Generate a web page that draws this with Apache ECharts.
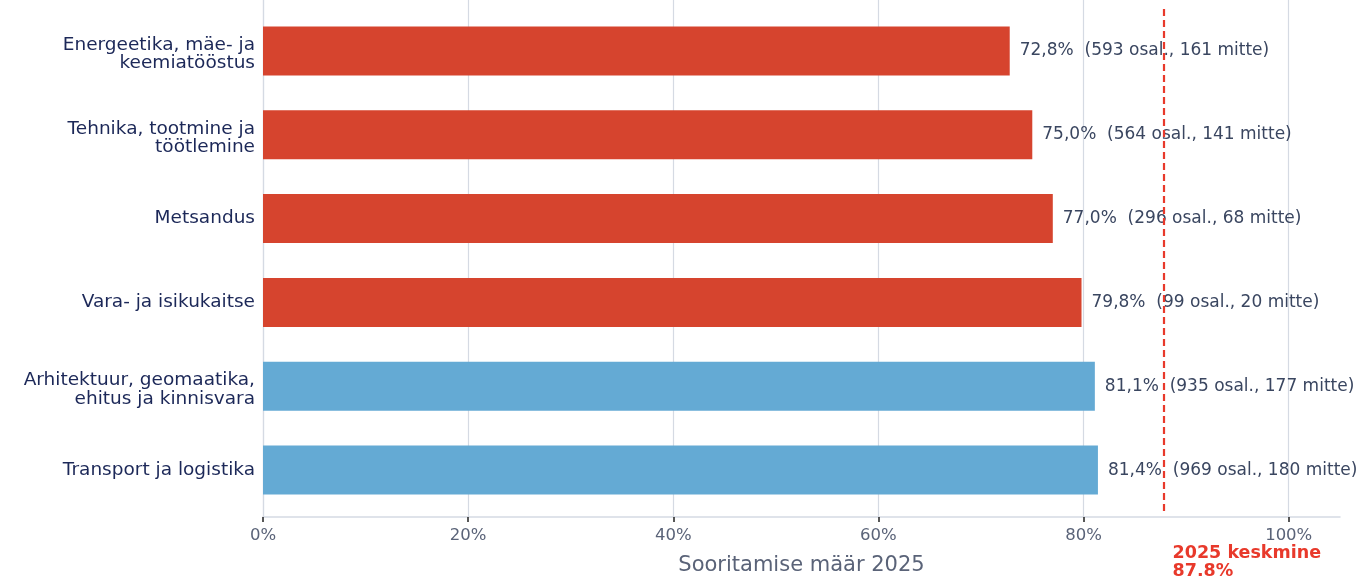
<!DOCTYPE html>
<html><head><meta charset="utf-8">
<script src="https://cdn.jsdelivr.net/npm/echarts@6/dist/echarts.min.js"></script>
<style>html,body{margin:0;padding:0;background:#fff}#c{width:1361px;height:576px}</style>
</head><body><div id="c"></div>
<script>
const categories = ["Energeetika, mäe- ja\nkeemiatööstus","Tehnika, tootmine ja\ntöötlemine","Metsandus","Vara- ja isikukaitse","Arhitektuur, geomaatika,\nehitus ja kinnisvara","Transport ja logistika"];
const rates = [72.8, 75.0, 77.0, 79.8, 81.1, 81.4];
const participants = [593, 564, 296, 99, 935, 969];
const failed = [161, 141, 68, 20, 177, 180];
const belowAverage = [true, true, true, true, false, false];
const average = 87.8;
const averageLabel = "2025 keskmine";
const xTicks = [0, 20, 40, 60, 80, 100];
const axisTitle = "Sooritamise määr 2025";

const RED = '#d6442e', BLUE = '#64aad4';
const font = "'DejaVu Sans', Verdana, sans-serif";
const fmt = v => v.toFixed(1).replace('.', ',');

const chart = echarts.init(document.getElementById('c'), null, {renderer:'canvas'});
chart.setOption({
  animation:false,
  textStyle:{fontFamily:font},
  grid:[
    {left:263, right:21, top:9, bottom:64, containLabel:false, outerBoundsMode:'none'},
    {left:263, right:21, top:0, bottom:59, containLabel:false, outerBoundsMode:'none'}
  ],
  xAxis:[
    {type:'value', gridIndex:0, min:0, max:105, offset:5,
      axisLine:{show:true, lineStyle:{color:'#d5dae3', width:1.5}},
      axisTick:{show:true, length:5, customValues:xTicks, lineStyle:{color:'#222', width:1.5}},
      axisLabel:{color:'#5a6378', fontSize:16.5, margin:10, fontFamily:font, customValues:xTicks,
        formatter:v => v + '%'},
      splitLine:{show:false},
      name:axisTitle, nameLocation:'middle', nameGap:38,
      nameTextStyle:{color:'#5a6378', fontSize:21, fontFamily:font}},
    {type:'value', gridIndex:1, min:0, max:105,
      axisLine:{show:false}, axisTick:{show:false, customValues:xTicks},
      axisLabel:{show:false, customValues:xTicks},
      splitLine:{show:true, lineStyle:{color:'#d5dae3', width:1.2}}}
  ],
  yAxis:[
    {type:'category', gridIndex:0, inverse:true, data:categories,
      axisLine:{show:false},
      axisTick:{show:false},
      axisLabel:{color:'#1c2858', fontSize:18.5, lineHeight:18.5, margin:8, align:'right', fontFamily:font,
        formatter: v => v.includes('\n') ? '{s| }\n' + v : v,
        rich:{s:{fontSize:1, lineHeight:7}}},
      splitLine:{show:false}},
    {type:'value', gridIndex:1, min:0, max:1,
      axisLine:{show:true, lineStyle:{color:'#d5dae3', width:1.2}},
      axisTick:{show:false}, axisLabel:{show:false}, splitLine:{show:false}}
  ],
  series:[{
    type:'bar', xAxisIndex:0, yAxisIndex:0, barWidth:49,
    data:rates.map((v,i)=>({value:v, itemStyle:{color: belowAverage[i] ? RED : BLUE}})),
    label:{show:true, position:'right', distance:10, color:'#3a4660', fontSize:17, fontFamily:font,
      formatter:p => fmt(p.value) + '%  (' + participants[p.dataIndex] + ' osal., ' + failed[p.dataIndex] + ' mitte)'},
    markLine:{silent:true, symbol:'none',
      lineStyle:{color:'#e8392b', type:[7,4], width:2.2},
      label:{show:true, position:'end', distance:[0, 0],
        formatter: averageLabel + '\n' + fmt(average) + '%',
        color:'#e8392b', fontWeight:'bold', fontSize:17.5, lineHeight:18, fontFamily:font,
        align:'left', verticalAlign:'top', padding:[32,0,0,9]},
      data:[{xAxis:average}]},
    z:2
  }]
});
</script></body></html>
